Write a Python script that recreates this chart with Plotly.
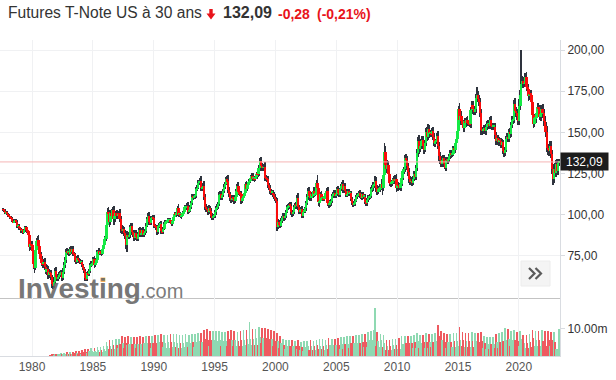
import plotly.graph_objects as go
import pandas as pd

# ---------------- data (monthly candles, Aug 1977 -> Apr 2023) ----------------
START_MONTH = "1977-08-01"
FIRST_OPEN = 103.5

CLOSE = [
    103.0, 102.4, 101.0, 101.6, 100.5,                                            # 1977 Aug-Dec
    99.5, 99.0, 98.2, 98.0, 96.5, 95.5, 96.0, 96.8, 95.8, 93.0, 93.5, 92.0,        # 1978
    91.5, 90.2, 90.5, 89.5, 90.5, 92.3, 91.0, 90.0, 88.0, 80.5, 82.5, 81.5,        # 1979
    78.0, 70.0, 68.0, 78.5, 84.0, 85.0, 81.0, 76.0, 73.0, 70.5, 70.0, 71.5,        # 1980
    68.5, 65.5, 67.0, 63.5, 65.0, 64.5, 62.0, 58.0, 57.0, 59.5, 66.0, 62.5,        # 1981
    61.5, 62.5, 63.5, 64.5, 65.0, 61.5, 65.5, 69.5, 72.5, 77.5, 77.0, 77.5,        # 1982
    76.5, 79.0, 77.5, 79.5, 76.5, 76.0, 72.5, 71.5, 74.0, 72.5, 72.0, 71.0,        # 1983
    71.5, 69.5, 67.5, 66.0, 61.5, 61.0, 64.5, 64.0, 66.0, 69.5, 70.0, 71.0,        # 1984
    73.0, 69.5, 71.0, 72.5, 77.5, 78.0, 76.5, 77.5, 76.5, 79.0, 81.5, 85.5,        # 1985
    85.5, 94.0, 101.5, 100.5, 95.5, 101.0, 99.5, 103.0, 97.5, 99.5, 101.0, 99.5,   # 1986
    100.0, 101.0, 97.5, 91.5, 90.5, 91.5, 89.0, 87.0, 81.5, 87.5, 87.0, 87.5,      # 1987
    92.5, 93.0, 89.5, 88.0, 86.0, 89.0, 86.5, 85.5, 88.5, 90.5, 88.0, 89.0,        # 1988
    90.5, 88.0, 89.0, 90.0, 93.5, 97.5, 99.5, 95.5, 95.0, 98.0, 98.5, 98.0,        # 1989
    93.5, 93.0, 92.0, 89.5, 93.0, 94.0, 94.5, 90.0, 89.5, 91.5, 94.5, 95.5,        # 1990
    96.0, 96.5, 96.5, 97.0, 96.0, 94.5, 96.0, 98.5, 100.5, 100.0, 100.5, 104.0,    # 1991
    100.0, 100.5, 99.0, 99.5, 101.0, 102.0, 104.5, 104.5, 105.5, 102.0, 102.5, 104.5,  # 1992
    107.0, 111.0, 110.5, 111.0, 111.5, 115.5, 116.5, 119.5, 119.5, 120.5, 116.0, 116.0,  # 1993
    117.5, 111.0, 105.0, 103.5, 103.0, 101.5, 104.0, 102.5, 99.5, 98.5, 99.0, 99.5,    # 1994
    101.5, 104.0, 105.0, 106.5, 112.0, 112.5, 110.5, 112.0, 114.5, 117.0, 119.0, 121.5,  # 1995
    120.5, 115.0, 112.5, 110.0, 109.0, 110.5, 110.0, 108.5, 111.0, 114.5, 117.5, 114.0,  # 1996
    113.0, 112.5, 108.5, 110.5, 111.5, 113.5, 118.5, 115.5, 118.0, 120.0, 120.5, 122.5,  # 1997
    123.5, 122.0, 122.0, 121.5, 123.0, 125.0, 124.5, 128.5, 132.5, 129.5, 128.5, 128.5,  # 1998
    129.0, 122.5, 122.0, 121.5, 118.0, 116.5, 114.5, 113.5, 113.5, 112.5, 111.0, 109.5,  # 1999
    108.5, 92.5, 95.5, 94.0, 93.5, 96.5, 98.0, 99.5, 98.0, 99.5, 102.0, 104.5,         # 2000
    104.5, 106.0, 105.5, 101.5, 100.5, 101.5, 104.5, 106.0, 105.5, 110.5, 104.5, 102.0,  # 2001
    103.0, 103.5, 99.5, 102.0, 102.0, 104.0, 107.0, 111.0, 114.5, 111.5, 110.0, 112.5,   # 2002
    111.5, 114.5, 112.5, 113.5, 119.5, 116.5, 107.5, 108.5, 112.5, 110.0, 110.0, 109.5,  # 2003
    111.5, 113.0, 114.5, 107.0, 106.0, 107.0, 108.5, 111.5, 112.5, 113.5, 111.5, 112.5,  # 2004
    115.5, 113.5, 112.0, 115.5, 117.5, 118.5, 115.0, 117.5, 114.5, 112.0, 112.5, 114.5,  # 2005
    113.0, 113.0, 109.5, 107.0, 106.5, 106.5, 108.5, 111.0, 112.0, 112.0, 113.5, 111.5,  # 2006
    110.5, 112.5, 111.0, 111.0, 108.0, 107.0, 109.0, 110.5, 110.5, 111.5, 115.5, 116.0,  # 2007
    118.0, 118.5, 120.5, 116.0, 114.0, 115.5, 115.5, 117.0, 119.0, 116.5, 124.0, 138.0,  # 2008
    130.5, 128.0, 130.0, 124.5, 119.5, 119.0, 119.5, 120.5, 122.0, 120.5, 122.0, 116.0,  # 2009
    118.0, 117.5, 116.5, 119.0, 122.5, 126.5, 127.5, 134.5, 133.0, 129.5, 126.0, 121.5,  # 2010
    120.0, 120.5, 119.5, 122.0, 124.5, 123.0, 128.5, 137.5, 145.0, 140.0, 141.5, 144.5,  # 2011
    145.5, 142.0, 139.5, 143.5, 150.5, 147.5, 152.0, 149.5, 149.5, 149.0, 151.0, 147.5,  # 2012
    143.5, 144.5, 144.5, 148.0, 142.0, 135.5, 133.5, 131.0, 133.5, 134.5, 131.0, 128.5,  # 2013
    133.5, 133.0, 133.5, 135.5, 137.5, 136.5, 137.0, 140.5, 139.5, 143.5, 146.0, 151.0,  # 2014
    164.0, 157.5, 160.0, 157.0, 155.0, 152.5, 157.0, 155.5, 157.5, 156.0, 155.5, 155.0,  # 2015
    163.5, 166.5, 164.0, 163.0, 164.0, 171.0, 173.0, 170.5, 168.5, 162.0, 151.5, 151.0,  # 2016
    151.0, 152.5, 151.0, 153.5, 155.0, 155.0, 154.0, 157.5, 154.0, 153.5, 153.5, 153.5,  # 2017
    148.5, 144.5, 146.5, 144.0, 145.5, 145.0, 142.5, 144.0, 139.0, 137.5, 139.5, 146.0,  # 2018
    147.5, 146.0, 150.5, 149.0, 154.5, 157.5, 157.5, 167.0, 163.0, 162.0, 160.0, 157.0,  # 2019
    166.0, 172.5, 179.5, 181.0, 179.5, 179.5, 183.5, 177.5, 176.5, 172.0, 173.5, 173.0,  # 2020
    168.5, 160.5, 155.0, 158.5, 158.5, 162.0, 165.5, 164.0, 159.5, 161.0, 164.5, 161.5,  # 2021
    157.0, 154.0, 150.5, 140.5, 139.5, 139.0, 141.5, 137.0, 127.5, 122.0, 128.0, 125.5,  # 2022
    131.0, 126.5, 131.5, 132.09,                                                          # 2023 Jan-Apr
]

UP_WICK = [
    0.8, 0.6, 0.9, 0.7, 0.5,
    0.6, 0.7, 0.5, 0.8, 0.6, 0.9, 1.0, 0.7, 0.6, 0.8, 1.1, 0.7,
    0.9, 0.6, 0.8, 0.7, 1.0, 0.8, 1.2, 0.9, 1.0, 1.5, 2.2, 1.4,
    2.8, 1.5, 3.5, 2.6, 2.0, 2.0, 2.8, 1.6, 1.4, 1.8, 2.5, 1.6,
    2.2, 1.4, 2.5, 1.7, 2.0, 1.5, 1.8, 1.2, 2.1, 2.5, 1.5, 2.6,
    1.8, 1.2, 1.5, 1.4, 1.6, 1.3, 2.0, 1.8, 1.6, 1.5, 2.4, 1.5,
    1.4, 1.2, 2.0, 1.1, 1.8, 1.2, 1.0, 1.4, 1.2, 1.6, 1.0, 1.1,
    1.3, 0.9, 0.8, 1.0, 1.2, 1.5, 0.9, 1.6, 1.0, 1.2, 1.8, 1.0,
    1.5, 1.8, 1.2, 1.0, 1.4, 1.6, 1.8, 1.0, 1.4, 1.2, 1.1, 1.6,
    1.8, 2.0, 2.5, 3.2, 2.4, 1.8, 2.6, 1.8, 2.4, 2.0, 1.6, 2.2,
    1.9, 1.5, 2.4, 1.6, 2.2, 1.8, 1.4, 1.9, 2.1, 2.6, 2.0, 1.4,
    1.6, 1.8, 2.1, 1.4, 1.2, 1.7, 2.0, 1.2, 1.0, 1.5, 1.9, 1.1,
    1.3, 1.8, 1.0, 1.2, 1.6, 1.4, 1.6, 2.0, 1.1, 1.3, 1.0, 1.2,
    1.6, 1.2, 1.0, 1.4, 1.1, 1.2, 1.3, 1.8, 1.0, 1.2, 1.0, 1.4,
    1.1, 1.5, 1.0, 0.9, 1.2, 1.0, 1.1, 1.3, 1.0, 1.5, 1.1, 1.6,
    2.4, 1.2, 1.4, 1.0, 1.2, 1.0, 1.6, 1.4, 1.8, 2.0, 1.0, 1.2,
    1.3, 1.4, 1.8, 1.2, 1.0, 1.5, 1.4, 1.6, 1.7, 1.9, 2.8, 1.5,
    1.6, 3.0, 1.8, 1.4, 1.6, 1.4, 1.8, 1.6, 1.4, 1.5, 1.4, 1.2,
    1.4, 1.3, 1.4, 1.2, 1.6, 2.0, 1.8, 1.5, 1.2, 1.4, 1.1, 1.5,
    1.8, 3.5, 1.8, 1.4, 1.2, 1.6, 1.4, 1.6, 1.2, 1.4, 1.2, 2.4,
    1.6, 1.4, 1.8, 1.2, 1.4, 1.2, 1.5, 2.2, 1.2, 1.6, 1.4, 1.4,
    1.8, 1.6, 1.4, 1.6, 1.4, 1.2, 1.6, 1.8, 2.0, 2.6, 2.0, 1.5,
    1.6, 2.8, 1.6, 1.4, 2.2, 1.6, 1.4, 1.2, 1.6, 1.4, 1.2, 1.4,
    1.2, 1.4, 1.8, 1.6, 1.2, 1.4, 1.2, 1.4, 1.6, 1.2, 1.0, 1.2,
    1.8, 1.4, 1.5, 2.2, 1.4, 1.6, 1.2, 1.4, 2.0, 1.8, 2.8, 1.6,
    1.4, 1.2, 1.8, 1.2, 1.4, 1.0, 1.2, 1.6, 2.0, 2.4, 1.4, 1.2,
    1.6, 1.8, 2.4, 1.2, 1.8, 4.5, 2.6, 1.6, 1.4, 1.8, 1.2, 1.6,
    1.4, 1.2, 1.6, 2.4, 1.8, 1.4, 1.2, 1.4, 1.2, 1.5, 1.8, 1.2,
    1.6, 2.0, 1.2, 1.0, 1.2, 1.4, 2.4, 1.2, 1.8, 1.4, 1.0, 1.2,
    1.4, 1.0, 1.6, 1.2, 1.4, 1.2, 1.0, 1.2, 1.0, 1.4, 1.2, 1.6,
    1.4, 1.2, 1.6, 1.2, 1.4, 1.6, 1.2, 1.8, 1.6, 1.2, 1.4, 1.8,
    2.0, 1.6, 2.8, 2.6, 2.0, 1.8, 2.0, 1.6, 3.0, 2.4, 2.0, 5.3,
    4.0, 2.2, 3.2, 2.6, 2.0, 2.4, 1.8, 2.0, 1.6, 2.2, 2.0, 3.0,
    2.0, 1.6, 2.0, 1.4, 2.2, 1.6, 1.8, 2.0, 2.6, 2.4, 2.0, 2.2,
    1.8, 2.4, 1.6, 1.4, 1.8, 2.0, 1.6, 2.4, 2.2, 3.6, 2.4, 1.8,
    2.6, 2.2, 2.0, 1.8, 2.4, 2.8, 3.0, 2.4, 2.0, 1.8, 1.6, 2.0,
    2.0, 1.8, 1.6, 1.4, 3.0, 2.0, 2.6, 1.4, 2.2, 1.6, 1.8, 1.4,
    1.6, 1.8, 1.6, 1.4, 1.8, 2.0, 1.6, 1.4, 2.0, 2.6, 1.6, 1.8,
    2.2, 4.0, 2.4, 3.0, 2.2, 2.4, 1.8, 2.0, 1.8, 2.4, 1.6, 1.8,
    2.2, 2.4, 2.6, 2.0, 1.8, 2.2, 4.7, 2.4, 2.0, 2.6, 2.4, 2.0,
    2.0, 1.8, 2.2, 1.6, 1.8, 2.4, 1.6, 1.8, 2.4, 1.6, 1.4, 2.0,
    2.2, 1.8, 1.6, 2.0, 1.6, 1.4, 1.6, 1.8, 1.6, 1.8, 1.4, 1.6,
    2.0, 2.2, 1.6, 2.0, 1.8, 2.4, 2.2, 2.8, 3.6, 2.4, 2.0, 2.2,
    4.0, 3.0, 20.5, 3.0, 2.6, 2.2, 2.8, 3.4, 2.4, 2.6, 2.8, 2.2,
    2.6, 2.4, 2.8, 2.4, 2.6, 2.2, 2.6, 2.4, 2.8, 2.6, 2.4, 3.0,
    2.6, 2.8, 2.6, 3.2, 2.4, 3.0, 3.0, 3.6, 2.4, 2.4, 3.0, 3.2,
    2.4, 3.0, 2.6, 1.6,
]

DN_WICK = [
    0.6, 0.8, 0.7, 0.6, 0.9,
    0.8, 0.6, 0.9, 0.7, 0.8, 0.6, 0.7, 0.9, 1.0, 0.8, 0.7, 1.0,
    0.8, 1.0, 0.7, 0.9, 0.8, 0.7, 0.9, 1.1, 1.4, 2.5, 1.6, 1.8,
    2.5, 3.0, 3.6, 1.8, 1.6, 1.4, 2.0, 2.2, 1.6, 1.8, 2.2, 1.6,
    2.0, 1.5, 1.8, 2.2, 1.6, 2.0, 1.8, 2.4, 2.0, 1.5, 1.4, 1.8,
    1.6, 1.4, 1.2, 1.0, 1.5, 1.4, 1.2, 1.4, 1.6, 1.8, 1.4, 1.6,
    1.4, 1.2, 1.3, 1.0, 1.5, 1.2, 1.4, 1.2, 1.0, 1.3, 1.2, 1.0,
    1.0, 1.2, 1.1, 1.3, 1.8, 1.2, 1.0, 1.2, 1.0, 1.1, 1.0, 1.2,
    1.0, 1.6, 1.2, 1.1, 1.0, 1.4, 1.2, 1.0, 1.3, 1.0, 1.2, 1.0,
    1.4, 1.6, 1.8, 2.6, 2.8, 1.6, 2.4, 1.8, 3.5, 2.0, 1.8, 2.0,
    1.8, 1.6, 2.0, 2.6, 2.2, 1.6, 1.8, 1.6, 2.0, 4.1, 1.8, 1.6,
    1.4, 1.8, 1.6, 1.4, 1.6, 1.2, 1.4, 1.2, 1.3, 1.2, 1.4, 1.2,
    1.2, 1.4, 1.6, 1.2, 1.0, 1.2, 1.4, 1.6, 1.4, 1.0, 1.2, 1.1,
    1.4, 1.2, 1.4, 1.6, 1.2, 1.0, 1.2, 1.8, 1.4, 1.2, 1.0, 1.2,
    1.0, 1.2, 1.4, 1.0, 1.2, 1.3, 1.0, 1.1, 1.0, 1.2, 1.4, 1.0,
    1.2, 1.6, 1.2, 1.4, 1.0, 1.2, 1.0, 1.4, 1.2, 1.6, 1.2, 1.0,
    1.2, 1.0, 1.4, 1.2, 1.4, 1.0, 1.2, 1.0, 1.4, 1.2, 1.6, 1.8,
    1.4, 1.8, 2.0, 1.6, 1.4, 1.4, 1.2, 1.6, 1.4, 1.4, 1.8, 1.2,
    1.2, 1.4, 1.0, 1.2, 1.4, 1.2, 1.6, 1.4, 1.2, 1.0, 1.2, 1.0,
    1.4, 1.6, 1.6, 1.8, 1.6, 1.4, 1.6, 1.8, 1.2, 1.2, 1.4, 1.8,
    1.6, 1.4, 1.8, 1.4, 1.2, 1.4, 1.2, 1.6, 1.2, 1.4, 1.2, 1.0,
    1.2, 1.4, 1.2, 1.6, 1.2, 1.0, 1.4, 1.2, 1.4, 2.8, 1.6, 1.8,
    1.4, 1.8, 1.6, 1.4, 1.6, 1.4, 1.8, 1.4, 1.2, 1.6, 1.2, 1.4,
    1.6, 2.5, 1.4, 1.6, 1.8, 1.2, 1.4, 1.2, 1.6, 1.4, 1.2, 1.0,
    1.4, 1.2, 1.6, 1.8, 1.6, 1.4, 1.2, 1.0, 2.2, 1.2, 1.6, 1.8,
    1.6, 1.2, 1.6, 1.4, 1.2, 1.0, 1.4, 1.2, 1.0, 2.4, 1.6, 1.4,
    1.6, 1.2, 1.8, 1.2, 1.0, 1.8, 2.4, 3.0, 1.4, 1.6, 1.4, 1.2,
    1.4, 1.2, 1.0, 1.8, 1.6, 1.4, 1.4, 1.2, 1.4, 1.2, 1.6, 1.4,
    1.2, 1.6, 1.4, 1.2, 1.0, 1.2, 1.6, 1.4, 1.4, 1.2, 1.4, 1.0,
    1.4, 1.2, 1.4, 1.2, 1.6, 1.4, 1.2, 1.0, 1.2, 1.2, 1.0, 1.4,
    1.2, 1.4, 1.2, 1.4, 1.2, 1.6, 1.4, 1.2, 1.4, 1.2, 1.2, 1.4,
    1.6, 1.8, 1.4, 2.4, 1.8, 1.6, 1.8, 1.4, 1.8, 4.2, 1.8, 1.6,
    3.0, 2.8, 2.4, 2.2, 2.0, 2.4, 2.2, 1.8, 1.6, 1.8, 2.0, 2.0,
    1.8, 1.6, 1.4, 1.8, 1.6, 1.4, 1.8, 1.6, 2.0, 2.2, 2.4, 2.0,
    2.0, 1.6, 1.8, 1.4, 1.6, 2.0, 1.8, 2.0, 2.4, 2.8, 2.0, 1.8,
    1.8, 2.0, 2.4, 1.6, 1.8, 2.4, 2.0, 2.6, 2.2, 1.8, 2.0, 2.2,
    2.0, 2.2, 1.8, 1.6, 2.2, 3.0, 2.4, 1.8, 2.0, 2.2, 1.8, 1.0,
    1.8, 1.6, 2.0, 1.6, 1.4, 1.8, 1.6, 1.4, 2.0, 2.2, 1.8, 1.6,
    2.0, 2.6, 3.2, 2.4, 2.2, 2.0, 2.4, 2.6, 2.0, 2.2, 1.8, 2.0,
    2.4, 2.0, 2.6, 2.2, 2.4, 2.0, 2.2, 2.0, 2.4, 2.6, 3.0, 2.4,
    2.0, 2.2, 1.8, 2.4, 1.8, 2.0, 2.2, 1.8, 2.0, 1.8, 2.0, 1.6,
    2.4, 2.0, 1.6, 1.8, 2.4, 1.6, 1.8, 1.6, 2.0, 2.2, 1.8, 1.6,
    2.0, 1.8, 1.6, 2.2, 1.6, 1.8, 2.2, 2.0, 2.8, 2.4, 2.6, 2.2,
    2.6, 2.4, 5.0, 2.6, 2.4, 2.2, 2.0, 2.6, 2.4, 2.8, 2.6, 2.4,
    3.0, 3.6, 2.4, 2.0, 2.4, 2.6, 2.2, 2.4, 2.0, 2.6, 2.4, 2.6,
    2.8, 3.0, 3.4, 2.6, 3.4, 3.2, 2.8, 2.6, 3.0, 4.0, 2.4, 2.6,
    2.4, 2.2, 2.6, 1.8,
]

# monthly volume, millions of contracts (None = no volume shown)
VOLUME_M = [
    None, None, None, None, None,
    None, None, None, None, None, None, None, None, None, None, None, None,
    None, None, None, None, None, None, None, None, None, None, None, None,
    None, None, None, None, None, None, None, None, None, None, None, None,
    None, None, None, None, None, 0.3, 0.2, 0.6, 0.4, 0.3, 0.7, 0.4,
    0.4, 0.9, 0.6, 0.4, 1.0, 0.6, 0.5, 1.1, 0.7, 0.5, 1.3, 0.8,
    0.6, 1.4, 0.9, 0.6, 1.5, 1.0, 0.7, 1.7, 1.1, 0.7, 1.8, 1.1,
    0.9, 2.2, 1.4, 1.0, 2.6, 1.6, 1.1, 2.7, 1.7, 1.2, 2.9, 1.8,
    1.3, 3.1, 2.0, 1.4, 3.3, 2.1, 1.5, 3.4, 2.2, 1.6, 3.6, 2.4,
    2.0, 5.0, 3.6, 2.4, 5.8, 3.8, 2.6, 6.0, 4.0, 2.6, 6.1, 4.0,
    2.8, 6.4, 4.4, 3.6, 7.4, 4.6, 3.0, 6.8, 4.6, 4.0, 7.2, 4.4,
    2.9, 6.8, 4.4, 3.0, 7.0, 4.5, 3.0, 6.9, 4.4, 3.1, 7.2, 4.5,
    3.0, 7.1, 4.6, 3.0, 7.3, 4.8, 3.2, 7.4, 4.7, 3.1, 7.5, 4.6,
    3.2, 7.6, 4.9, 3.2, 7.8, 5.0, 3.3, 8.0, 5.1, 3.3, 7.8, 4.8,
    3.1, 7.8, 5.0, 3.1, 8.0, 5.1, 3.2, 8.2, 5.2, 3.2, 7.9, 4.9,
    3.1, 7.7, 4.9, 3.1, 7.6, 4.9, 3.2, 7.9, 5.0, 3.2, 7.7, 4.8,
    3.2, 8.0, 5.1, 3.3, 8.2, 5.3, 3.4, 8.3, 5.4, 3.5, 8.5, 5.3,
    3.8, 9.4, 6.4, 4.0, 10.0, 6.0, 3.8, 9.1, 5.8, 3.8, 9.2, 5.7,
    3.5, 9.0, 5.6, 3.4, 9.3, 5.9, 3.6, 8.9, 5.6, 3.5, 8.8, 5.5,
    3.7, 9.3, 6.2, 3.7, 9.4, 5.9, 3.7, 9.0, 5.7, 3.6, 8.9, 5.5,
    3.6, 9.1, 6.0, 3.7, 9.4, 5.9, 3.9, 9.5, 6.1, 4.4, 12.4, 6.4,
    4.1, 10.0, 6.4, 4.1, 10.1, 6.5, 4.2, 10.6, 7.0, 4.6, 10.4, 6.5,
    4.1, 10.2, 6.6, 4.0, 10.0, 6.4, 3.9, 9.5, 6.1, 3.7, 9.0, 5.6,
    3.4, 8.4, 5.4, 3.0, 7.2, 4.6, 2.6, 6.3, 4.0, 2.4, 5.9, 3.7,
    2.3, 5.8, 3.7, 2.2, 5.7, 3.6, 2.1, 5.5, 3.5, 2.4, 6.0, 3.6,
    2.1, 5.3, 3.4, 2.0, 5.4, 3.4, 2.1, 5.6, 3.6, 2.3, 5.7, 3.5,
    2.2, 5.5, 3.6, 2.2, 5.9, 3.9, 2.7, 6.2, 3.8, 2.4, 6.1, 3.7,
    2.3, 6.0, 3.9, 2.7, 6.6, 4.1, 2.5, 6.3, 4.0, 2.5, 6.4, 3.9,
    2.5, 6.5, 4.2, 2.7, 6.9, 4.4, 2.7, 7.0, 4.5, 2.8, 7.2, 4.5,
    2.8, 7.3, 4.8, 2.9, 7.5, 4.8, 2.9, 7.6, 4.9, 3.0, 7.8, 4.9,
    3.1, 7.9, 5.2, 3.2, 8.2, 5.3, 3.4, 8.9, 5.7, 3.5, 9.2, 5.8,
    3.6, 9.5, 17.5, 3.8, 8.8, 5.4, 3.3, 8.1, 5.8, 3.4, 7.7, 4.6,
    2.3, 5.7, 3.8, 2.2, 5.9, 3.7, 2.3, 6.1, 3.9, 2.4, 6.3, 3.9,
    2.5, 6.5, 4.2, 2.6, 7.2, 4.5, 2.7, 7.3, 4.7, 2.8, 7.4, 4.6,
    2.9, 7.5, 4.9, 2.9, 7.6, 5.0, 3.0, 8.4, 5.6, 3.1, 7.8, 4.8,
    2.9, 7.7, 5.0, 3.0, 8.5, 5.3, 3.1, 7.9, 5.1, 3.2, 8.0, 5.0,
    3.1, 8.3, 5.4, 3.4, 11.4, 7.2, 3.8, 9.2, 5.9, 3.4, 8.4, 5.3,
    3.1, 7.9, 5.2, 3.2, 8.1, 5.2, 3.2, 8.3, 5.4, 3.4, 8.6, 5.5,
    3.6, 10.6, 5.9, 3.5, 8.9, 6.0, 3.4, 8.6, 5.5, 3.3, 8.5, 5.4,
    3.3, 8.7, 5.5, 3.2, 8.3, 5.5, 3.3, 8.4, 5.2, 3.2, 8.9, 5.4,
    2.8, 7.2, 4.7, 2.7, 7.1, 4.5, 2.6, 6.9, 4.4, 2.6, 6.9, 4.4,
    3.1, 8.2, 5.1, 3.0, 8.5, 5.2, 3.1, 8.7, 5.6, 3.9, 10.2, 5.8,
    3.6, 9.9, 6.3, 3.5, 9.0, 5.9, 3.5, 9.6, 6.0, 3.6, 8.9, 5.5,
    3.6, 9.1, 6.2, 3.0, 7.8, 4.8, 2.9, 7.7, 4.8, 3.0, 7.9, 5.0,
    3.4, 9.5, 6.5, 3.5, 9.1, 5.8, 3.6, 9.2, 5.8, 3.6, 9.4, 5.6,
    3.5, 9.3, 6.2, 3.6, 9.0, 5.9, 3.5, 8.8, 5.8, 3.4, 8.7, 5.2,
    2.6, 0.0, 2.6, 9.9,
]

PRICE_TICKS = [75, 100, 125, 150, 175, 200]
PRICE_TICK_TEXT = ["75,00", "100,00", "125,00", "150,00", "175,00", "200,00"]
YEAR_TICKS = [1980, 1985, 1990, 1995, 2000, 2005, 2010, 2015, 2020]
VOL_TICKS = [10_000_000]
VOL_TICK_TEXT = ["10.00m"]
LAST_PRICE = 132.09
LAST_TEXT = "132,09"
TITLE = "Futures T-Note US à 30 ans"
CHANGE = "-0,28"
CHANGE_PCT = "(-0,21%)"

# ---------------- derived series ----------------
n = min(len(CLOSE), len(UP_WICK), len(DN_WICK), len(VOLUME_M))
close = CLOSE[:n]
opens = [FIRST_OPEN] + close[:-1]
highs = [max(o, c) + u for o, c, u in zip(opens, close, UP_WICK[:n])]
lows = [min(o, c) - d for o, c, d in zip(opens, close, DN_WICK[:n])]
dates = pd.date_range(START_MONTH, periods=n, freq="MS") + pd.Timedelta(days=14)
up = [c >= o for o, c in zip(opens, close)]

GREEN = "#15ea45"
RED = "#fa0c0c"
WICK = "#2e333d"
VGREEN = "#8fd9b2"
VRED = "#ee5a60"
DAY = 86400000

fig = go.Figure()
# wicks
fig.add_trace(go.Bar(
    x=dates, base=lows, y=[h - l for h, l in zip(highs, lows)],
    width=24 * DAY, marker=dict(color=WICK, line=dict(width=0)),
    xaxis="x", yaxis="y", hoverinfo="skip"))
# bodies
fig.add_trace(go.Bar(
    x=dates, base=[min(o, c) for o, c in zip(opens, close)],
    y=[max(abs(c - o), 0.5) for o, c in zip(opens, close)],
    width=70 * DAY, marker=dict(color=[GREEN if u else RED for u in up], line=dict(width=0)),
    xaxis="x", yaxis="y", hoverinfo="skip"))
# volume
fig.add_trace(go.Bar(
    x=dates, y=[(v * 1e6 if v else None) for v in VOLUME_M[:n]],
    width=22 * DAY, marker=dict(color=[VGREEN if u else VRED for u in up], line=dict(width=0)),
    xaxis="x2", yaxis="y2", hoverinfo="skip"))

# ---------------- geometry helpers (pixels -> paper) ----------------
W, H = 616, 380
ML, MR, MT, MB = 0, 56, 40, 24
PW, PH = W - ML - MR, H - MT - MB


def px(x):
    return (x - ML) / PW


def py(y):
    return (H - MB - y) / PH


split = py(298)
xr = ["1977-05-15", "2023-05-20"]
year_vals = [f"{y}-01-01" for y in YEAR_TICKS]
grid = "#f0f1f3"
axis_line = "#d9dce1"

fig.update_layout(
    width=W, height=H, margin=dict(l=ML, r=MR, t=MT, b=MB),
    paper_bgcolor="white", plot_bgcolor="white",
    barmode="overlay", bargap=0, showlegend=False, hovermode=False,
    font=dict(family="Liberation Sans, Arial, sans-serif", color="#333"),
    xaxis=dict(domain=[0, 1], anchor="y", type="date", range=xr,
               tickvals=year_vals, showticklabels=False, ticks="",
               showgrid=True, gridcolor=grid, zeroline=False,
               showline=True, linecolor="#c3c3c3", linewidth=1),
    yaxis=dict(domain=[split, 1], anchor="x", side="right", range=[49.5, 206.1],
               tickvals=PRICE_TICKS, ticktext=PRICE_TICK_TEXT,
               tickfont=dict(size=12, color="#333"),
               ticks="outside", ticklen=4, tickcolor=axis_line,
               showgrid=True, gridcolor=grid, zeroline=False,
               showline=True, linecolor=axis_line),
    xaxis2=dict(domain=[0, 1], anchor="y2", type="date", range=xr, matches="x",
                tickvals=year_vals, ticktext=[str(y) for y in YEAR_TICKS],
                tickfont=dict(size=12, color="#555"), ticks="",
                showgrid=True, gridcolor=grid, zeroline=False,
                showline=True, linecolor=axis_line),
    yaxis2=dict(domain=[0, split], anchor="x2", side="right", range=[0, 21.3e6],
                tickvals=VOL_TICKS, ticktext=VOL_TICK_TEXT,
                tickfont=dict(size=12, color="#333"),
                ticks="outside", ticklen=4, tickcolor=axis_line,
                showgrid=False, zeroline=False,
                showline=True, linecolor=axis_line),
)

shapes = []
# last-price line
shapes.append(dict(type="line", xref="paper", yref="y", x0=0, x1=1,
                   y0=LAST_PRICE, y1=LAST_PRICE, line=dict(color="#f5b5b5", width=1)))
# red down arrow in header
arrow = (f"M {px(209.3)},{py(9)} L {px(212.7)},{py(9)} L {px(212.7)},{py(13.5)} "
         f"L {px(215.5)},{py(13.5)} L {px(211)},{py(19.5)} L {px(206.5)},{py(13.5)} "
         f"L {px(209.3)},{py(13.5)} Z")
shapes.append(dict(type="path", xref="paper", yref="paper", path=arrow,
                   fillcolor="#e8141b", line=dict(width=0)))
# orange dot of the logo
shapes.append(dict(type="rect", xref="paper", yref="paper",
                   x0=px(100.5), x1=px(105.3), y0=py(282), y1=py(277.5),
                   fillcolor="#f6b45c", line=dict(width=0), layer="above"))
# >> button
shapes.append(dict(type="rect", xref="paper", yref="paper",
                   x0=px(521), x1=px(550), y0=py(286), y1=py(261),
                   fillcolor="#f4f4f4", line=dict(color="#ececec", width=1)))
for cx in (529, 535.5):
    shapes.append(dict(type="path", xref="paper", yref="paper",
                       path=f"M {px(cx)},{py(268)} L {px(cx + 5.5)},{py(273.5)} L {px(cx)},{py(279)}",
                       line=dict(color="#5a5a5a", width=2.2)))

annotations = [
    dict(text=TITLE, x=px(6), y=py(13), xref="paper", yref="paper",
         xanchor="left", yanchor="middle", showarrow=False,
         font=dict(size=15.6, color="#333")),
    dict(text=f"<b>{LAST_TEXT}</b>", x=px(221), y=py(13), xref="paper", yref="paper",
         xanchor="left", yanchor="middle", showarrow=False,
         font=dict(size=16, color="#333")),
    dict(text=f"<b>{CHANGE}</b>", x=px(276), y=py(13.5), xref="paper", yref="paper",
         xanchor="left", yanchor="middle", showarrow=False,
         font=dict(size=14, color="#e8141b")),
    dict(text=f"<b>{CHANGE_PCT}</b>", x=px(315), y=py(13.5), xref="paper", yref="paper",
         xanchor="left", yanchor="middle", showarrow=False,
         font=dict(size=14, color="#e8141b")),
    # last price tag
    dict(text=LAST_TEXT, x=1, y=LAST_PRICE, xref="paper", yref="y",
         xanchor="left", yanchor="middle", showarrow=False,
         bgcolor="#1c1c1c", width=45, height=15, borderpad=1,
         font=dict(size=12, color="white")),
    # logo
    dict(text="<b>Investing</b>", x=px(16), y=py(288), xref="paper", yref="paper",
         xanchor="left", yanchor="middle", showarrow=False,
         font=dict(size=28, color="rgba(105,105,105,0.92)")),
    dict(text=".com", x=px(138), y=py(290.5), xref="paper", yref="paper",
         xanchor="left", yanchor="middle", showarrow=False,
         font=dict(size=20, color="rgba(110,110,110,0.92)")),
]

fig.update_layout(shapes=shapes, annotations=annotations)
fig.write_html("out.html", config={"displayModeBar": False},
               post_script="document.body.style.margin='0';")
